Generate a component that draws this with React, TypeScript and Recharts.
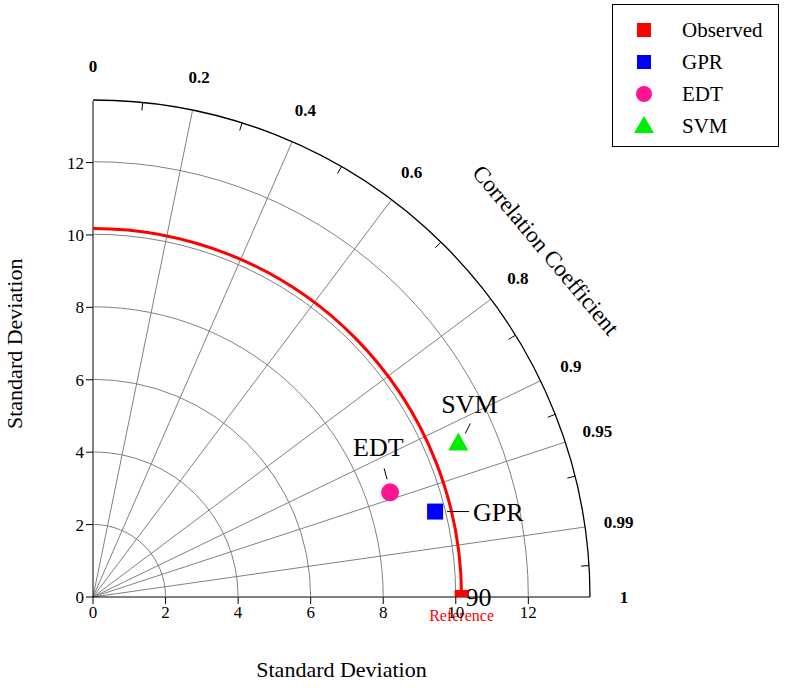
import React from 'react';
import { ScatterChart, Scatter, XAxis, YAxis, ReferenceLine, ReferenceDot } from 'recharts';

const MAX_SD = 13.7;
const sdTicks = [0, 2, 4, 6, 8, 10, 12];
const sdArcs = [2, 4, 6, 8, 10, 12];
const corrLines = [0.2, 0.4, 0.6, 0.8, 0.9, 0.95, 0.99];
const corrLabels = [0, 0.2, 0.4, 0.6, 0.8, 0.9, 0.95, 0.99, 1];
const corrMinor = [0.1, 0.3, 0.5, 0.7, 0.85, 0.93, 0.97, 0.998];
const refSd = 10.16;

const observed = [{ x: 10.16, y: 0 }];
const gpr = [{ x: 9.43, y: 2.36 }];
const edt = [{ x: 8.19, y: 2.89 }];
const svm = [{ x: 10.07, y: 4.24 }];

const W = 797, H = 698;
const Y_W = 93, X_H = 30;
const M = { top: 101, right: 207, bottom: 101 - X_H, left: 0 };
const PLOT = W - Y_W - M.right; // 497
const PX = PLOT / MAX_SD;
const serif = '"Liberation Serif", "Times New Roman", serif';

function Polar(props: any) {
  const { cx, cy } = props;
  const ang = (c: number) => Math.acos(c);
  const arc = (r: number) => {
    const R = r * PX;
    return `M ${cx} ${cy - R} A ${R} ${R} 0 0 1 ${cx + R} ${cy}`;
  };
  const RO = MAX_SD * PX;
  return (
    <g>
      {sdArcs.map((r) => <path key={r} d={arc(r)} fill="none" stroke="#808080" strokeWidth={1} />)}
      <path d={arc(MAX_SD)} fill="none" stroke="#000" strokeWidth={1.3} />
      <path d={arc(refSd)} fill="none" stroke="#ff0000" strokeWidth={3} />
      {corrMinor.map((c) => {
        const a = ang(c);
        return <line key={c} x1={cx + RO * Math.cos(a)} y1={cy - RO * Math.sin(a)}
          x2={cx + (RO - 8) * Math.cos(a)} y2={cy - (RO - 8) * Math.sin(a)} stroke="#000" />;
      })}
      {corrLabels.map((c) => {
        const a = ang(c);
        const R = RO + 34;
        return <text key={c} x={cx + R * Math.cos(a)} y={cy - R * Math.sin(a) + 6} textAnchor="middle"
          fontFamily={serif} fontWeight="bold" fontSize={17}>{String(c)}</text>;
      })}
      <text x={540} y={255} textAnchor="middle" fontFamily={serif} fontSize={23}
        transform="rotate(50 540 255)">Correlation Coefficient</text>
      <text x={cx + refSd * PX + 4} y={cy + 9} fontFamily={serif} fontSize={26}>90</text>
      <text x={cx + refSd * PX} y={cy + 24} textAnchor="middle" fontFamily={serif} fontSize={16} fill="#ff0000">Reference</text>
    </g>
  );
}

const labelShape = (kind: string, color: string, label: string, lx: number, ly: number, l: number[]) => (p: any) => {
  const { cx, cy } = p;
  let mark;
  if (kind === 'square') mark = <rect x={cx - 8} y={cy - 8} width={16} height={16} fill={color} />;
  else if (kind === 'circle') mark = <circle cx={cx} cy={cy} r={9} fill={color} />;
  else mark = <polygon points={`${cx},${cy - 11} ${cx + 10},${cy + 7} ${cx - 10},${cy + 7}`} fill={color} />;
  return (
    <g>
      {mark}
      <line x1={cx + l[0]} y1={cy + l[1]} x2={cx + l[2]} y2={cy + l[3]} stroke="#000" />
      <text x={cx + lx} y={cy + ly} fontFamily={serif} fontSize={26}>{label}</text>
    </g>
  );
};

const legendItems = [
  { name: 'Observed', color: '#ff0000', kind: 'square' },
  { name: 'GPR', color: '#0000ff', kind: 'square' },
  { name: 'EDT', color: '#ff1493', kind: 'circle' },
  { name: 'SVM', color: '#00ee00', kind: 'triangle' },
];

function LegendBox() {
  return (
    <svg width={168} height={144} style={{ position: 'absolute', left: 612, top: 4 }}>
      <rect x={0.5} y={0.5} width={166} height={142} fill="#fff" stroke="#000" />
      {legendItems.map((it, i) => {
        const y = 26 + i * 32;
        const x = 32;
        let m;
        if (it.kind === 'square') m = <rect x={x - 7} y={y - 7} width={14} height={14} fill={it.color} />;
        else if (it.kind === 'circle') m = <circle cx={x} cy={y} r={8} fill={it.color} />;
        else m = <polygon points={`${x},${y - 10} ${x + 10},${y + 7} ${x - 10},${y + 7}`} fill={it.color} />;
        return (
          <g key={it.name}>
            {m}
            <text x={70} y={y + 7} fontFamily={serif} fontSize={21}>{it.name}</text>
          </g>
        );
      })}
    </svg>
  );
}

export default function App() {
  return (
    <div style={{ position: 'absolute', left: 0, top: 0, width: W, height: H, background: '#fff' }}>
      <ScatterChart width={W} height={H} margin={M}>
        <XAxis type="number" dataKey="x" domain={[0, MAX_SD]} ticks={sdTicks} allowDataOverflow height={X_H}
          stroke="#000" tick={{ fill: '#000', fontFamily: serif, fontSize: 17 }} tickSize={7}
          label={{ value: 'Standard Deviation', position: 'insideBottom', offset: -50, fontFamily: serif, fontSize: 22, fill: '#000' }} />
        <YAxis type="number" dataKey="y" domain={[0, MAX_SD]} ticks={sdTicks} allowDataOverflow width={Y_W}
          stroke="#000" tick={{ fill: '#000', fontFamily: serif, fontSize: 17 }} tickSize={7}
          label={{ value: 'Standard Deviation', angle: -90, position: 'insideLeft', offset: 14, fontFamily: serif, fontSize: 22, fill: '#000', dy: 80 }} />
        {corrLines.map((c) => (
          <ReferenceLine key={c} segment={[{ x: 0, y: 0 }, { x: MAX_SD * c, y: MAX_SD * Math.sqrt(1 - c * c) }]}
            stroke="#808080" strokeWidth={1} ifOverflow="visible" />
        ))}
        <ReferenceDot x={0} y={0} r={0} ifOverflow="visible" shape={(p: any) => <Polar {...p} />} />
        <Scatter name="Observed" data={observed} isAnimationActive={false}
          shape={(p: any) => <rect x={p.cx - 7} y={p.cy - 7} width={14} height={8} fill="#ff0000" />} />
        <Scatter name="GPR" data={gpr} isAnimationActive={false}
          shape={labelShape('square', '#0000ff', 'GPR', 38, 9, [12, 0, 34, 0])} />
        <Scatter name="EDT" data={edt} isAnimationActive={false}
          shape={labelShape('circle', '#ff1493', 'EDT', -37, -36, [-3, -13, -6, -24])} />
        <Scatter name="SVM" data={svm} isAnimationActive={false}
          shape={labelShape('triangle', '#00ee00', 'SVM', -17, -30, [7, -10, 12, -20])} />
      </ScatterChart>
      <LegendBox />
    </div>
  );
}
